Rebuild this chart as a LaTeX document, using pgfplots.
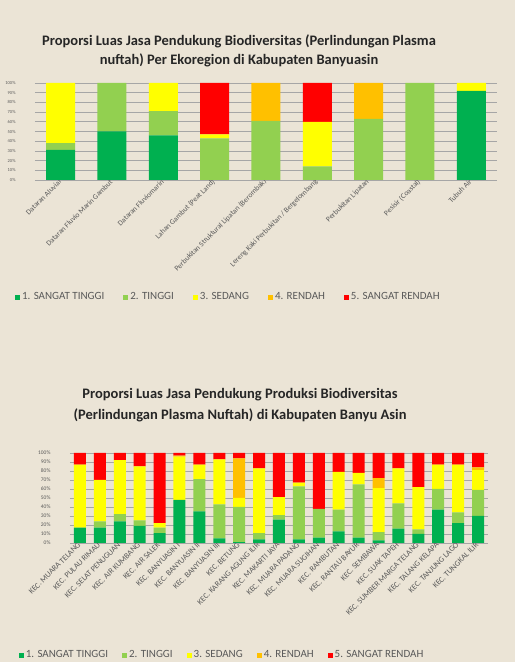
\documentclass[border=0pt]{standalone}
\usepackage{pgfplots}
\pgfplotsset{compat=1.18}
\usepackage{pgfplotstable}
\usepackage{fontspec}
\setmainfont{Carlito}
\definecolor{bg}{HTML}{EBE4D6}
\definecolor{c1}{HTML}{00B050}
\definecolor{c2}{HTML}{92D050}
\definecolor{c3}{HTML}{FFFF00}
\definecolor{c4}{HTML}{FFC000}
\definecolor{c5}{HTML}{FF0000}
\definecolor{txt}{HTML}{595959}
\definecolor{grd}{HTML}{A6A6A6}

\pgfplotstableread{
x st t s r sr
0 31 7 62 0 0
1 50 50 0 0 0
2 46 25 29 0 0
3 0 43 4 0 53
4 0 61 0 39 0
5 0 14 46 0 40
6 0 63 0 37 0
7 0 100 0 0 0
8 92 0 8 0 0
}\ecoA

\pgfplotstableread{
x st t s r sr
0 17 0 70 0 13
1 17 7 46 0 30
2 24 8 60 0 8
3 19 6 60 0 15
4 11 6 5 0 78
5 48 0 48 1 3
6 35 36 16 0 13
7 5 38 50 0 7
8 1 39 10 44 6
9 4 7 72 0 17
10 26 5 20 0 49
11 4 59 4 0 33
12 6 32 0 0 62
13 13 24 42 0 21
14 6 59 13 0 22
15 3 9 49 11 28
16 16 28 39 0 17
17 10 5 47 0 38
18 37 23 27 0 13
19 22 12 53 0 13
20 30 29 22 3 16
}\kecB

\pgfplotsset{
  common/.style={
    scale only axis,
    ybar stacked,
    ymin=0, ymax=100,
    ytick={0,10,...,100},
    yticklabel={\pgfmathprintnumber[assume math mode=true]{\tick}\%},
    ymajorgrids,
    grid style={grd, line width=0.6pt},
    axis line style={draw=none},
    major tick length=0pt,
    xtick=data,
    xticklabel style={rotate=45, anchor=east, text=txt, inner sep=1pt},
    yticklabel style={text=txt, xshift=-16pt},
    legend columns=5,
    legend style={draw=none, fill=none, font=\fontsize{11}{12}\selectfont, text=txt},
    legend image code/.code={\fill[##1] (0pt,-3pt) rectangle (5pt,2pt);},
  },
}

\begin{document}
\begin{tikzpicture}
\fill[bg] (0pt,0pt) rectangle (515pt,662pt);
\useasboundingbox (0pt,0pt) rectangle (515pt,662pt);

\node[font=\bfseries\fontsize{14.5}{16}\selectfont, text=black!85] at (239pt,621pt) {Proporsi Luas Jasa Pendukung Biodiversitas (Perlindungan Plasma};
\node[font=\bfseries\fontsize{14.5}{16}\selectfont, text=black!85] at (239pt,602pt) {nuftah) Per Ekoregion di Kabupaten Banyuasin};

\begin{axis}[common,
  at={(35pt,482pt)}, anchor=south west,
  width=462pt, height=97pt,
  xmin=-0.5, xmax=8.5,
  bar width=29pt,
  yticklabel style={font=\fontsize{4.5}{5}\selectfont},
  xticklabel style={font=\fontsize{7.5}{8}\selectfont},
  xticklabels={Dataran Aluvial, Dataran Fluvio Marin Gambut, Dataran Fluviomarin, Lahan Gambut (Peat Land), Perbukitan Struktural Lipatan (Berombak), Lereng Kaki Perbukitan / Bergelombang, Perbukitan Lipatan, Pesisir (Coastal), Tubuh Air},
  legend style={at={(axis description cs:-0.05,-1.206)}, anchor=west,
    /tikz/every even column/.append style={column sep=17pt}},
]
\addplot[fill=c1, draw=none] table[x=x, y=st] {\ecoA};
\addplot[fill=c2, draw=none] table[x=x, y=t] {\ecoA};
\addplot[fill=c3, draw=none] table[x=x, y=s] {\ecoA};
\addplot[fill=c4, draw=none] table[x=x, y=r] {\ecoA};
\addplot[fill=c5, draw=none] table[x=x, y=sr] {\ecoA};
\legend{1. SANGAT TINGGI, 2. TINGGI, 3. SEDANG, 4. RENDAH, 5. SANGAT RENDAH}
\end{axis}

\node[font=\bfseries\fontsize{14.5}{16}\selectfont, text=black!85] at (240pt,267pt) {Proporsi Luas Jasa Pendukung Produksi Biodiversitas};
\node[font=\bfseries\fontsize{14.5}{16}\selectfont, text=black!85] at (240pt,247pt) {(Perlindungan Plasma Nuftah) di Kabupaten Banyu Asin};

\begin{axis}[common,
  at={(70pt,119pt)}, anchor=south west,
  width=418pt, height=90pt,
  xmin=-0.5, xmax=20.5,
  bar width=12pt,
  yticklabel style={font=\fontsize{5.5}{6}\selectfont},
  xticklabel style={font=\fontsize{8}{9}\selectfont},
  xticklabels={KEC. MUARA TELANG, KEC. PULAU RIMAU, KEC. SELAT PENUGUAN, KEC. AIR KUMBANG, KEC. AIR SALEK, KEC. BANYUASIN I, KEC. BANYUASIN II, KEC. BANYUASIN III, KEC. BETUNG, KEC. KARANG AGUNG ILIR, KEC. MAKARTI JAYA, KEC. MUARA PADANG, KEC. MUARA SUGIHAN, KEC. RAMBUTAN, KEC. RANTAU BAYUR, KEC. SEMBAWA, KEC. SUAK TAPEH, KEC. SUMBER MARGA TELANG, KEC. TALANG KELAPA, KEC. TANJUNG LAGO, KEC. TUNGKAL ILIR},
  legend style={at={(axis description cs:-0.13,-1.24)}, anchor=west,
    /tikz/every even column/.append style={column sep=12pt}},
]
\addplot[fill=c1, draw=none] table[x=x, y=st] {\kecB};
\addplot[fill=c2, draw=none] table[x=x, y=t] {\kecB};
\addplot[fill=c3, draw=none] table[x=x, y=s] {\kecB};
\addplot[fill=c4, draw=none] table[x=x, y=r] {\kecB};
\addplot[fill=c5, draw=none] table[x=x, y=sr] {\kecB};
\legend{1. SANGAT TINGGI, 2. TINGGI, 3. SEDANG, 4. RENDAH, 5. SANGAT RENDAH}
\end{axis}
\end{tikzpicture}
\end{document}
